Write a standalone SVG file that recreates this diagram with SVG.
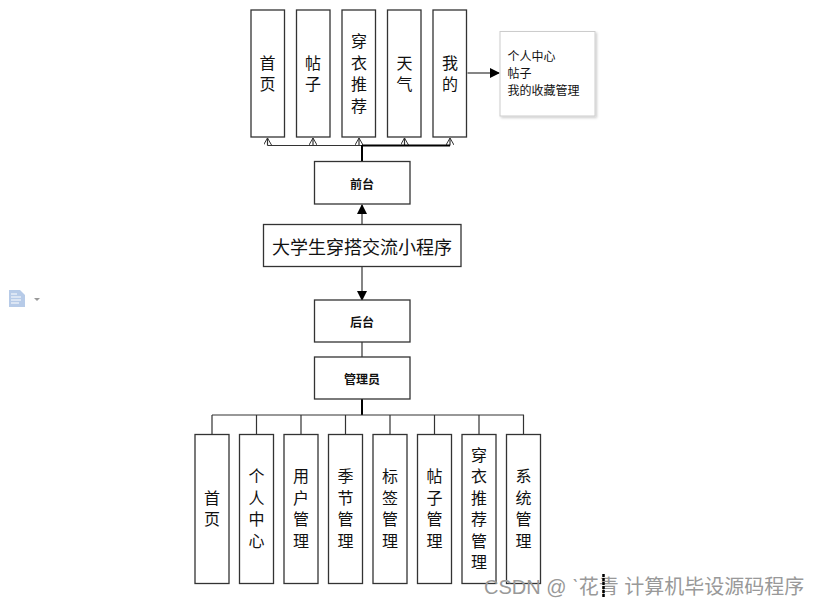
<svg xmlns="http://www.w3.org/2000/svg" width="823" height="607" viewBox="0 0 823 607">
<style>
.box{fill:#fff;stroke:#333;stroke-width:1.3}
.info{fill:#fff;stroke:#ccc;stroke-width:1}
.vt{font-family:"Noto Sans CJK SC",sans-serif;font-size:16px;fill:#111;text-anchor:middle;writing-mode:vertical-rl;letter-spacing:5.5px}
.ht{font-family:"Noto Sans CJK SC",sans-serif;font-size:18px;fill:#111;text-anchor:middle;dominant-baseline:central}
.bt{font-family:"Noto Sans CJK SC",sans-serif;font-size:12px;font-weight:bold;fill:#111;text-anchor:middle;dominant-baseline:central}
.it{font-family:"Noto Sans CJK SC",sans-serif;font-size:12px;fill:#111}
.ln{fill:none;stroke:#333;stroke-width:1.2}
.th{fill:none;stroke:#000;stroke-width:2}
.wm{font-family:"Liberation Sans","Noto Sans CJK SC",sans-serif;font-size:20px;fill:#999}
</style>
<defs>
<marker id="fa" markerWidth="10" markerHeight="10" refX="9" refY="5" orient="auto" markerUnits="userSpaceOnUse">
<path d="M0,0 L10,5 L0,10 Z" fill="#000"/>
</marker>
<marker id="oa" markerWidth="8" markerHeight="8" refX="7" refY="4" orient="auto" markerUnits="userSpaceOnUse">
<path d="M0,0 L7,4 L0,8" fill="none" stroke="#333" stroke-width="1"/>
</marker>
<filter id="sh" x="-10%" y="-10%" width="130%" height="130%">
<feDropShadow dx="1.5" dy="1.5" stdDeviation="1" flood-color="#000" flood-opacity="0.2"/>
</filter>
</defs>

<g id="connectors">
<path class="ln" d="M267.5,145.5 H450"/>
<path class="ln" d="M267.5,145.5 V138" marker-end="url(#oa)"/>
<path class="ln" d="M313,145.5 V138" marker-end="url(#oa)"/>
<path class="ln" d="M359,145.5 V138" marker-end="url(#oa)"/>
<path class="ln" d="M404.5,145.5 V138" marker-end="url(#oa)"/>
<path class="ln" d="M450,145.5 V138" marker-end="url(#oa)"/>
<path class="th" d="M362,145.5 H450"/>
<path class="th" d="M362,145 V162"/>
<path class="ln" d="M467.5,73 H499" marker-end="url(#fa)" stroke-width="1.6"/>
<path class="ln" d="M362,224 V205" marker-end="url(#fa)" stroke-width="1.6"/>
<path class="ln" d="M362,267 V300" marker-end="url(#fa)" stroke-width="1.6"/>
<path class="ln" d="M362,342 V357"/>
<path class="th" d="M362,399 V415"/>
<path class="ln" d="M212,415 H524"/>
<path class="ln" d="M212,415 V434 M256.5,415 V434 M301,415 V434 M345.5,415 V434 M390,415 V434 M434.5,415 V434 M479,415 V434 M523.5,415 V434"/>
</g>

<g id="n-home"><rect class="box" x="251" y="10" width="33.5" height="127"/><text class="vt" x="267.5" y="76">首页</text></g>
<g id="n-post"><rect class="box" x="296.5" y="10" width="33.5" height="127"/><text class="vt" x="313" y="76">帖子</text></g>
<g id="n-outfit"><rect class="box" x="342" y="10" width="33.5" height="127"/><text class="vt" x="359" y="76">穿衣推荐</text></g>
<g id="n-weather"><rect class="box" x="387.5" y="10" width="33.5" height="127"/><text class="vt" x="404.5" y="76">天气</text></g>
<g id="n-mine"><rect class="box" x="433" y="10" width="33.5" height="127"/><text class="vt" x="450" y="76">我的</text></g>

<g id="n-mine-info">
<rect class="info" x="500" y="31.5" width="95" height="84.5" filter="url(#sh)"/>
<text class="it" x="507.5" y="61">个人中心</text>
<text class="it" x="507.5" y="78">帖子</text>
<text class="it" x="507.5" y="95">我的收藏管理</text>
</g>

<g id="n-front"><rect class="box" x="314.5" y="161.5" width="95.5" height="42.5"/><text class="bt" x="362" y="183">前台</text></g>
<g id="n-app"><rect class="box" x="263.5" y="224.5" width="197.5" height="42"/><text class="ht" x="362" y="245.5">大学生穿搭交流小程序</text></g>
<g id="n-back"><rect class="box" x="314.5" y="300" width="95.5" height="42"/><text class="bt" x="362" y="321">后台</text></g>
<g id="n-admin"><rect class="box" x="314.5" y="357" width="95.5" height="42"/><text class="bt" x="362" y="378">管理员</text></g>

<g id="b-home"><rect class="box" x="195" y="434.5" width="34" height="149"/><text class="vt" x="212" y="511">首页</text></g>
<g id="b-center"><rect class="box" x="239.5" y="434.5" width="34" height="149"/><text class="vt" x="256.5" y="511">个人中心</text></g>
<g id="b-user"><rect class="box" x="284" y="434.5" width="34" height="149"/><text class="vt" x="301" y="511">用户管理</text></g>
<g id="b-season"><rect class="box" x="328.5" y="434.5" width="34" height="149"/><text class="vt" x="345.5" y="511">季节管理</text></g>
<g id="b-tag"><rect class="box" x="373" y="434.5" width="34" height="149"/><text class="vt" x="390" y="511">标签管理</text></g>
<g id="b-post"><rect class="box" x="417.5" y="434.5" width="34" height="149"/><text class="vt" x="434.5" y="511">帖子管理</text></g>
<g id="b-outfit"><rect class="box" x="462" y="434.5" width="34" height="149"/><text class="vt" x="479" y="511">穿衣推荐管理</text></g>
<g id="b-system"><rect class="box" x="506.5" y="434.5" width="34" height="149"/><text class="vt" x="523.5" y="511">系统管理</text></g>

<g id="doc-icon">
<path d="M9,290 H20 L25,295 V307 H9 Z" fill="#b7cbe8"/>
<path d="M11,294 H17 M11,297 H21 M11,300 H21 M11,303 H19" stroke="#fff" stroke-width="1"/>
<path d="M34,298 H40 L37,301 Z" fill="#999"/>
</g>

<text class="wm" x="484" y="594">CSDN @ ˋ花青 计算机毕设源码程序</text>
<path d="M603.5,574 V598" stroke="#000" stroke-width="2.5" stroke-dasharray="3,1"/>
</svg>
